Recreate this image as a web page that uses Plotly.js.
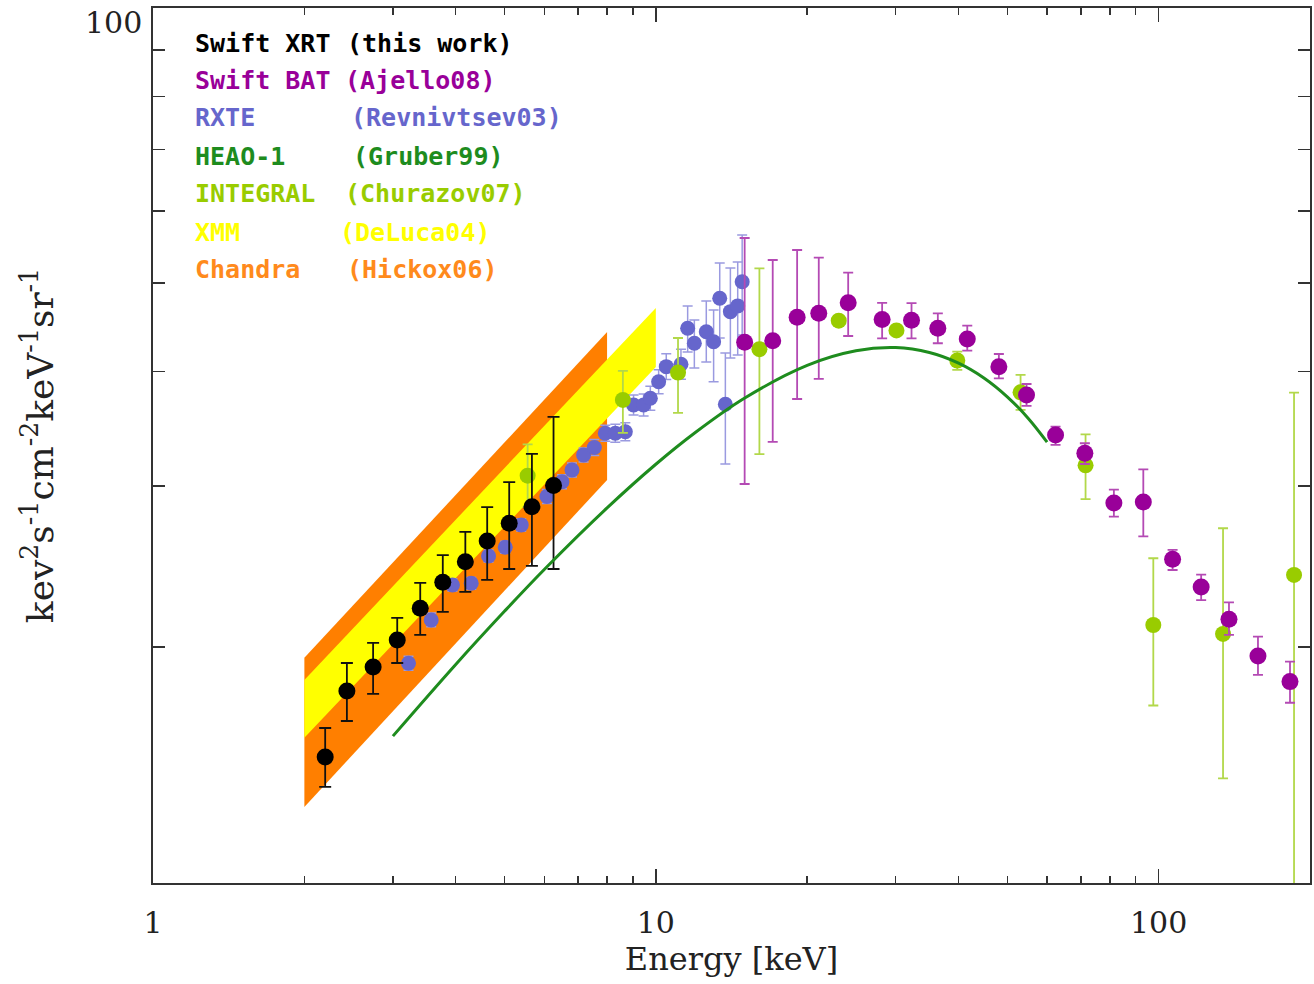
<!DOCTYPE html>
<html>
<head>
<meta charset="utf-8">
<script src="https://cdn.plot.ly/plotly-3.0.1.min.js"></script>
<style>
html, body { margin: 0; padding: 0; background: #ffffff; }
#chart { width: 1314px; height: 984px; }
</style>
</head>
<body>
<div id="chart"></div>
<script>
// ---------------- DATA ----------------
// Swift XRT (this work)
const xrtE  = [2.20, 2.43, 2.74, 3.06, 3.40, 3.77, 4.18, 4.62, 5.11, 5.67, 6.26];
const xrtF  = [15.15, 17.89, 19.01, 20.35, 22.04, 23.53, 24.78, 26.11, 27.30, 28.47, 30.02];
const xrtHi = [16.30, 19.20, 20.20, 21.51, 23.49, 25.20, 26.71, 28.44, 30.29, 32.51, 35.69];
const xrtLo = [14.05, 16.59, 17.76, 19.20, 20.61, 21.84, 22.97, 23.67, 24.33, 24.52, 24.33];

// Swift BAT (Ajello08)
const batE  = [15.02, 17.08, 19.10, 21.09, 24.13, 28.19, 32.25, 36.38, 41.63, 48.11,
               54.61, 62.37, 71.33, 81.47, 93.22, 106.6, 121.5, 138.0, 157.6, 182.5];
const batF  = [43.07, 43.25, 45.88, 46.34, 47.60, 45.61, 45.53, 44.63, 43.44, 40.51,
               37.72, 34.10, 32.57, 28.73, 28.80, 24.94, 23.25, 21.44, 19.54, 18.32];
const batHi = [56.02, 53.00, 54.35, 53.31, 51.33, 47.56, 47.53, 46.34, 44.93, 41.82,
               38.78, 34.83, 33.40, 29.72, 31.28, 25.53, 23.99, 22.37, 20.52, 19.27];
const batLo = [30.14, 33.51, 37.34, 39.28, 43.76, 43.51, 43.51, 42.97, 42.18, 39.34,
               36.69, 33.26, 31.70, 27.76, 26.41, 24.27, 22.50, 20.61, 18.63, 17.37];

// RXTE (Revnivtsev03)
const rxteE  = [3.222, 3.575, 3.941, 4.294, 4.649, 5.018, 5.399, 6.073, 6.507, 6.812,
                7.184, 7.545, 7.935, 8.307, 8.697, 9.031, 9.456, 9.752, 10.13, 10.49,
                11.22, 11.57, 11.93, 12.60, 13.03, 13.40, 13.75, 14.07, 14.55, 14.85];
const rxteF  = [19.19, 21.40, 23.37, 23.47, 25.14, 25.70, 27.19, 29.21, 30.31, 31.22,
                32.43, 33.04, 34.25, 34.25, 34.38, 36.78, 36.78, 37.41, 39.00, 40.51,
                40.76, 44.63, 42.97, 44.24, 43.14, 48.13, 36.85, 46.53, 47.21, 50.17];
const rxteHi = [19.53, 21.78, 23.72, 23.82, 25.52, 26.09, 27.60, 29.73, 30.85, 31.78,
                33.01, 33.72, 34.95, 35.04, 35.17, 37.72, 37.82, 38.56, 40.20, 41.85,
                42.33, 47.21, 45.56, 47.80, 46.73, 52.60, 41.92, 51.94, 52.73, 56.44];
const rxteLo = [18.85, 21.03, 23.02, 23.12, 24.77, 25.32, 26.78, 28.70, 29.78, 30.67,
                31.86, 32.38, 33.56, 33.48, 33.61, 35.87, 35.77, 36.30, 37.84, 39.21,
                39.25, 42.03, 40.37, 41.00, 39.00, 43.54, 31.70, 41.41, 41.72, 43.87];

// INTEGRAL (Churazov07)
const intE  = [5.56, 8.60, 11.07, 16.07, 23.11, 30.10, 39.77, 53.14, 71.56, 97.59, 134.3, 185.9];
const intF  = [30.78, 37.25, 39.91, 42.33, 45.49, 44.38, 41.14, 37.97, 31.59, 21.13, 20.66, 23.97];
const intHi = [33.31, 40.08, 43.54, 51.90, 45.80, 44.70, 42.07, 39.68, 34.15, 25.00, 26.96, 37.94];
const intLo = [28.44, 34.28, 36.06, 32.49, 45.20, 44.10, 40.18, 36.33, 29.02, 17.25, 14.36, 5.00];

// HEAO-1 (Gruber99) curve
const heaoE = [3, 4, 5, 6, 8, 10, 12, 15, 20, 25, 30, 35, 40, 45, 50, 55, 60];
const heaoF = [15.97, 19.13, 21.87, 24.30, 28.38, 31.68, 34.34, 37.41, 40.64, 42.16,
               42.50, 41.98, 40.87, 39.35, 37.55, 35.58, 33.50];

// XMM (DeLuca04) band, 2-10 keV
const xmmE     = [2, 10];
const xmmUpper = [18.40, 46.97];
const xmmLower = [15.90, 40.48];

// Chandra (Hickox06) band, 2-8 keV
const chaE     = [2, 8];
const chaUpper = [19.45, 44.21];
const chaLower = [13.36, 30.45];

// axis ticks
const xMajorTicks = [1, 10, 100];
const xMajorText  = ['1', '10', '100'];
const xMinorTicks = [2, 3, 4, 5, 6, 7, 8, 9, 20, 30, 40, 50, 60, 70, 80, 90, 200];
const yTicks      = [20, 30, 40, 50, 60, 70, 80, 90, 100];

// legend text
const legendNames  = ['Swift XRT', 'Swift BAT', 'RXTE', 'HEAO-1', 'INTEGRAL', 'XMM', 'Chandra'];
const legendRefs   = ['(this work)', '(Ajello08)', '(Revnivtsev03)', '(Gruber99)', '(Churazov07)', '(DeLuca04)', '(Hickox06)'];

// ---------------- STYLE ----------------
const C = {
  xrt: '#000000', bat: '#990099', rxte: '#6666cc', heao: '#1e8c1e',
  integral: '#99cc00', xmm: '#ffff00', chandra: '#ff7f00'
};
const legendColors = [C.xrt, C.bat, C.rxte, C.heao, C.integral, C.xmm, '#ff8a1c'];

function errY(y, hi, lo, color, width, thick) {
  return {
    type: 'data', symmetric: false, visible: true,
    array: y.map((v, i) => hi[i] - v),
    arrayminus: y.map((v, i) => v - lo[i]),
    color: color, thickness: thick, width: width
  };
}
function band(E, up, low, color) {
  return {
    x: [E[0], E[1], E[1], E[0], E[0]],
    y: [up[0], up[1], low[1], low[0], up[0]],
    mode: 'lines', fill: 'toself', fillcolor: color,
    line: { width: 0, color: color }, hoverinfo: 'skip', showlegend: false
  };
}

const traces = [
  band(chaE, chaUpper, chaLower, C.chandra),
  band(xmmE, xmmUpper, xmmLower, C.xmm),
  {
    x: rxteE, y: rxteF, mode: 'markers', name: 'RXTE',
    marker: { color: C.rxte, size: 15 },
    error_y: errY(rxteF, rxteHi, rxteLo, '#9a9ae0', 5, 1.5),
    showlegend: false
  },
  {
    x: intE, y: intF, mode: 'markers', name: 'INTEGRAL',
    marker: { color: C.integral, size: 16 },
    error_y: errY(intF, intHi, intLo, '#b2d84a', 5, 1.8),
    showlegend: false
  },
  {
    x: batE, y: batF, mode: 'markers', name: 'Swift BAT',
    marker: { color: C.bat, size: 17 },
    error_y: errY(batF, batHi, batLo, '#b44ab4', 5, 1.8),
    showlegend: false
  },
  {
    x: xrtE, y: xrtF, mode: 'markers', name: 'Swift XRT',
    marker: { color: C.xrt, size: 17 },
    error_y: errY(xrtF, xrtHi, xrtLo, '#111111', 6, 1.8),
    showlegend: false
  },
  {
    x: heaoE, y: heaoF, mode: 'lines', name: 'HEAO-1',
    line: { color: C.heao, width: 3, shape: 'spline' },
    showlegend: false
  }
];

// pixel -> paper helpers for text placement
const PL = 153, PR = 1310, PT = 8, PB = 883;
const px = v => (v - PL) / (PR - PL);
const py = v => (PB - v) / (PB - PT);

const legendY    = [43, 80, 118, 156, 194, 232, 270];
const legendRefX = [345, 343, 349, 351, 343, 338, 345];
const annotations = [];
legendNames.forEach((n, i) => {
  const font = { family: 'DejaVu Sans Mono, Liberation Mono, monospace', size: 25,
                 weight: 'bold', color: legendColors[i] };
  annotations.push({ xref: 'paper', yref: 'paper', x: px(193), y: py(legendY[i]),
    xanchor: 'left', yanchor: 'middle', text: n, showarrow: false, font: font });
  annotations.push({ xref: 'paper', yref: 'paper', x: px(legendRefX[i]), y: py(legendY[i]),
    xanchor: 'left', yanchor: 'middle', text: legendRefs[i], showarrow: false, font: font });
});
// top y tick label
annotations.push({ xref: 'paper', yref: 'paper', x: px(144), y: py(22), xanchor: 'right', yanchor: 'middle',
  text: '100', showarrow: false, font: { family: 'DejaVu Serif, serif', size: 30, color: '#222' } });

const axisCommon = {
  type: 'log', showline: true, linecolor: '#333', linewidth: 2, mirror: 'ticks',
  ticks: 'inside', tickcolor: '#333', tickwidth: 1.5, showgrid: false, zeroline: false
};

const layout = {
  width: 1314, height: 984,
  margin: { l: PL, r: 1314 - PR, t: PT, b: 984 - PB },
  paper_bgcolor: '#ffffff', plot_bgcolor: '#ffffff',
  showlegend: false,
  xaxis: Object.assign({}, axisCommon, {
    range: [0, Math.log10(200)],
    tickmode: 'array', tickvals: xMajorTicks, ticktext: xMajorText, ticklen: 14,
    ticklabelstandoff: 12,
    tickfont: { family: 'DejaVu Serif, serif', size: 30, color: '#222' },
    minor: { tickmode: 'array', tickvals: xMinorTicks, ticks: 'inside', ticklen: 7,
             tickcolor: '#333', tickwidth: 1.5, showgrid: false },
    title: { text: 'Energy [keV]', standoff: 6,
             font: { family: 'DejaVu Serif, serif', size: 32, color: '#222' } }
  }),
  yaxis: Object.assign({}, axisCommon, {
    range: [Math.log10(11.03), 2],
    tickmode: 'array', tickvals: yTicks, ticklen: 12, showticklabels: false,
    title: { text: 'kev<sup>2</sup>s<sup>-1</sup>cm<sup>-2</sup>keV<sup>-1</sup>sr<sup>-1</sup>',
             standoff: 86,
             font: { family: 'DejaVu Serif, serif', size: 36, color: '#222' } }
  }),
  annotations: annotations
};

Plotly.newPlot('chart', traces, layout, { staticPlot: true, displayModeBar: false });
</script>
</body>
</html>
